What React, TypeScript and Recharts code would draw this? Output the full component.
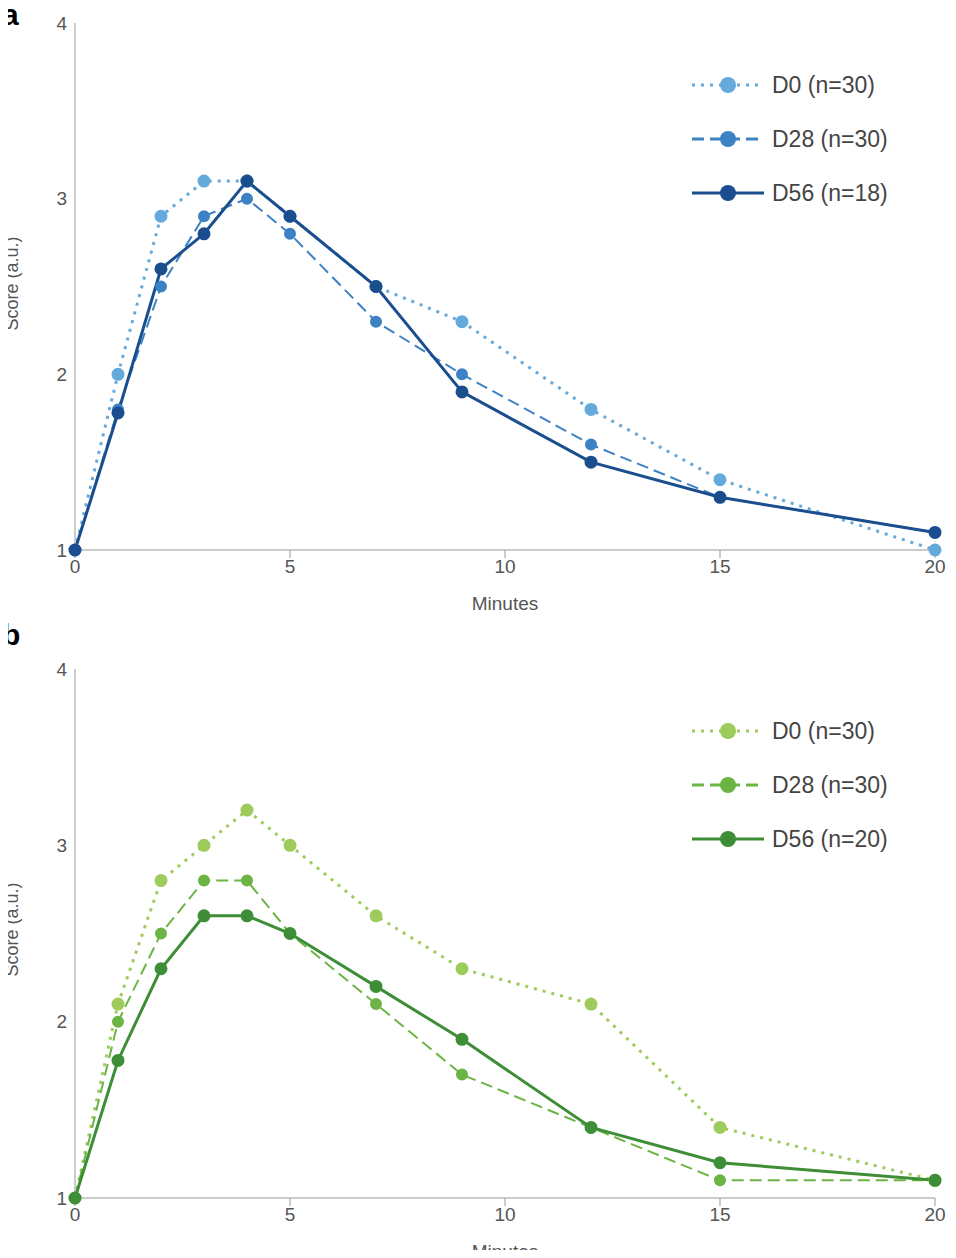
import React from "react";
import { LineChart, Line, XAxis, YAxis } from "recharts";

const minutes = [0, 1, 2, 3, 4, 5, 7, 9, 12, 15, 20];
const xTicks = [0, 5, 10, 15, 20];
const yTicks = [1, 2, 3, 4];

const aD0 = [1, 2.0, 2.9, 3.1, 3.1, 2.9, 2.5, 2.3, 1.8, 1.4, 1.0];
const aD28 = [1, 1.8, 2.5, 2.9, 3.0, 2.8, 2.3, 2.0, 1.6, 1.3, 1.1];
const aD56 = [1, 1.78, 2.6, 2.8, 3.1, 2.9, 2.5, 1.9, 1.5, 1.3, 1.1];

const bD0 = [1, 2.1, 2.8, 3.0, 3.2, 3.0, 2.6, 2.3, 2.1, 1.4, 1.1];
const bD28 = [1, 2.0, 2.5, 2.8, 2.8, 2.5, 2.1, 1.7, 1.4, 1.1, 1.1];
const bD56 = [1, 1.78, 2.3, 2.6, 2.6, 2.5, 2.2, 1.9, 1.4, 1.2, 1.1];

const build = (d0: number[], d28: number[], d56: number[]) =>
  minutes.map((m, i) => ({ m, d0: d0[i], d28: d28[i], d56: d56[i] }));

const FONT = "'Liberation Sans', Arial, sans-serif";
const AXIS = "#999";
const TXT = "#555";

function LegendBox({ items, top }: any) {
  return (
    <div style={{ position: "absolute", left: 690, top, fontFamily: FONT }}>
      {items.map((it: any) => (
        <div key={it.name} style={{ display: "flex", alignItems: "center", height: 54 }}>
          <svg width={76} height={20}>
            <line x1={2} y1={10} x2={74} y2={10} stroke={it.color} strokeWidth={3} strokeDasharray={it.dash} />
            <circle cx={38} cy={10} r={8} fill={it.color} />
          </svg>
          <span style={{ fontSize: 23, color: "#444", marginLeft: 6 }}>{it.name}</span>
        </div>
      ))}
    </div>
  );
}

function Panel({ data, colors, d56n, top, height, mt, mb }: any) {
  const items = [
    { name: "D0 (n=30)", color: colors[0], dash: "3 6" },
    { name: "D28 (n=30)", color: colors[1], dash: "12 6" },
    { name: `D56 (n=${d56n})`, color: colors[2] },
  ];
  const dot = (c: string) => ({ r: 5, fill: c, stroke: c, strokeDasharray: "0" });
  return (
    <div style={{ position: "absolute", left: 0, top, width: 956, height }}>
      <LineChart width={956} height={height} data={data} margin={{ top: mt, right: 21, bottom: mb, left: 0 }}>
        <XAxis
          dataKey="m"
          type="number"
          domain={[0, 20]}
          ticks={xTicks}
          axisLine={{ stroke: AXIS }}
          tickLine={{ stroke: AXIS }}
          tickSize={8}
          tick={{ fill: TXT, fontSize: 19, fontFamily: FONT }}
          height={60}
          label={{ value: "Minutes", position: "insideBottom", offset: 0, fill: TXT, fontSize: 19, fontFamily: FONT }}
        />
        <YAxis
          type="number"
          domain={[1, 4]}
          ticks={yTicks}
          width={75}
          axisLine={{ stroke: AXIS }}
          tickLine={false}
          tick={{ fill: TXT, fontSize: 19, fontFamily: FONT }}
        />
        <Line dataKey="d0" stroke={colors[0]} strokeWidth={3} strokeDasharray="3 6" dot={dot(colors[0])} isAnimationActive={false} />
        <Line dataKey="d28" stroke={colors[1]} strokeWidth={2} strokeDasharray="12 6" dot={dot(colors[1])} isAnimationActive={false} />
        <Line dataKey="d56" stroke={colors[2]} strokeWidth={3} dot={dot(colors[2])} isAnimationActive={false} />
      </LineChart>
      <div style={{ position: "absolute", left: -38, top: mt + 250, width: 100, textAlign: "center", transform: "rotate(-90deg)", fontSize: 18, color: TXT, fontFamily: FONT }}>
        Score (a.u.)
      </div>
      <LegendBox items={items} top={mt + 35} />
    </div>
  );
}

export default function App() {
  return (
    <div style={{ position: "relative", width: 956, height: 1258, margin: -8, background: "#fff", fontFamily: FONT, overflow: "hidden" }}>
      <Panel data={build(aD0, aD28, aD56)} colors={["#64aadc", "#3c82c4", "#1a4e8e"]} d56n={18} top={0} height={620} mt={23} mb={10} />
      <Panel data={build(bD0, bD28, bD56)} colors={["#9dcc5c", "#6cb444", "#3e8e37"]} d56n={20} top={640} height={618} mt={29} mb={0} />
      <div style={{ position: "absolute", left: 2, top: 0, fontSize: 30, lineHeight: "30px", fontWeight: "bold" }}>a</div>
      <div style={{ position: "absolute", left: 2, top: 620, fontSize: 30, lineHeight: "30px", fontWeight: "bold" }}>b</div>
    </div>
  );
}
